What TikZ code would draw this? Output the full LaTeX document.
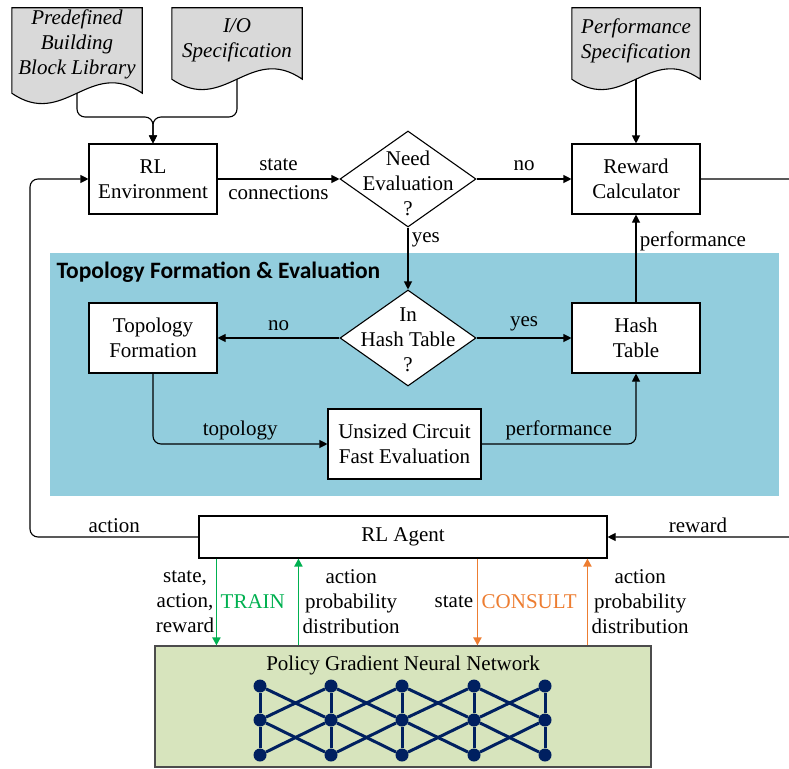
\documentclass[tikz,border=0pt]{standalone}
\usepackage{fontspec}
\setmainfont{Liberation Serif}
\newfontfamily\headfont{Carlito}
\usetikzlibrary{positioning,shapes.geometric,arrows.meta,calc,backgrounds}

\definecolor{panelblue}{RGB}{146,205,221}
\definecolor{docgray}{RGB}{217,217,217}
\definecolor{nnolive}{RGB}{215,228,189}
\definecolor{netnavy}{RGB}{0,32,96}
\definecolor{traingreen}{RGB}{0,176,80}
\definecolor{consultorange}{RGB}{237,125,49}

\newcommand{\mainsize}{\fontsize{21}{25}\selectfont}

% paper sheet with a wavy lower edge behind a doc node; #2 = extra drop of the wave
\newcommand{\docoutline}[2]{%
  \filldraw[docline] (#1.north west) -- (#1.north east) -- ([yshift=-#2pt]#1.south east)
    .. controls ($([yshift=-#2pt]#1.south east)!0.4!([yshift=-#2pt]#1.south west)+(0,-36)$)
    and ($([yshift=-#2pt]#1.south east)!0.6!([yshift=-#2pt]#1.south west)+(0,36)$)
    .. ([yshift=-#2pt]#1.south west) -- cycle;
  \coordinate (#1-tail) at ([yshift=-#2pt]#1.south);}

\begin{document}
\begin{tikzpicture}[x=1pt, y=-1pt, every node/.style={align=center, font=\mainsize}]

\tikzstyle{block} = [rectangle, draw, fill=white, line width=1.1pt, minimum width=128pt, minimum height=70pt, inner sep=0]
\tikzstyle{decision} = [diamond, draw, fill=white, line width=1.1pt, minimum width=136pt, minimum height=96pt, inner sep=0]
\tikzstyle{doc} = [rectangle, minimum width=130pt, inner sep=0, font=\mainsize\itshape]
\tikzstyle{docline} = [fill=docgray, draw, line width=1.1pt]
\tikzstyle{arrow} = [draw, line width=1.1pt, -{Triangle[length=8pt,width=8pt]}]
\tikzstyle{wire} = [draw, line width=1.1pt, rounded corners=8pt]
\tikzstyle{trainarrow} = [draw=traingreen, line width=1.9pt, -{Triangle[length=8pt,width=8pt]}]
\tikzstyle{consultarrow} = [draw=consultorange, line width=1.9pt, -{Triangle[length=8pt,width=8pt]}]
\tikzstyle{neuron} = [circle, fill=netnavy, inner sep=0, minimum size=13pt]
\tikzstyle{synapse} = [draw=netnavy, line width=3pt]

\useasboundingbox (0,0) rectangle (789,768);

% evaluation panel
\node [rectangle, fill=panelblue, minimum width=729pt, minimum height=243pt, inner sep=0] (panel) at (414.5,374.5) {};
\node [anchor=west, font=\headfont\bfseries\fontsize{23.5}{27}\selectfont] (paneltitle) at (53,272) {Topology Formation \& Evaluation};

% inputs
\node [doc, minimum height=72pt] (lib) at (77,44) {Predefined\\Building\\Block Library};
\node [doc, minimum height=64pt] (io) at (237,40) {I/O\\Specification};
\node [doc, minimum width=128pt, minimum height=66pt] (perf) at (636,41) {Performance\\Specification};
\begin{scope}[on background layer]
\docoutline{lib}{13}
\docoutline{io}{7}
\docoutline{perf}{5}
\end{scope}

% top row
\node [block] (env) at (153,179) {RL\\Environment};
\node [decision, label={[yshift=-4pt]center:Need\\Evaluation\\?}] (need) at (408,179) {};
\node [block] (rc) at (636,179) {Reward\\Calculator};

% inside the panel
\node [decision, label={[yshift=-2pt]center:In\\Hash Table\\?}] (intable) at (408,338) {};
\node [block] (tf) at (153,338) {Topology\\Formation};
\node [block] (ht) at (636,338) {Hash\\Table};
\node [block, minimum width=153pt] (ucfe) at (404.5,444) {Unsized Circuit\\Fast Evaluation};

% agent and network
\node [block, minimum width=408pt, minimum height=42pt] (agent) at (403,537) {RL Agent};
\node [rectangle, draw=black!70, fill=nnolive, line width=1.1pt, minimum width=496pt, minimum height=121pt, inner sep=0,
       label={[anchor=north, yshift=-7pt]north:Policy Gradient Neural Network}] (nn) at (403,706.5) {};

\coordinate (merge) at (153,117);
\coordinate (loopL) at (30,0);
\coordinate (loopR) at (800,0);

\draw [wire, arrow] (lib-tail) |- (merge) -- (env.north);
\draw [wire, arrow] (io-tail) |- (merge) -- (env.north);
\draw [arrow] (perf-tail) -- (rc.north);

\draw [arrow] (env.east) -- node[above=4pt]{state} node[below=3pt]{connections} (need.west);
\draw [arrow] (need.east) -- node[above=4pt]{no} (rc.west);
\draw [arrow] (need.south) -- node[pos=0.2, right]{yes} (intable.north);
\draw [arrow] (ht.north) -- node[pos=0.7, right]{performance} (rc.south);

\draw [arrow] (intable.west) -- node[above=3pt]{no} (tf.east);
\draw [arrow] (intable.east) -- node[above=3pt]{yes} (ht.west);
\draw [arrow, rounded corners=8pt] (tf.south) |- node[pos=0.75, above]{topology} (ucfe.west);
\draw [arrow, rounded corners=8pt] (ucfe.east) -| node[pos=0.25, above]{performance} (ht.south);

\draw [arrow, rounded corners=8pt] (agent.west) -- node[above]{action} (agent.west -| loopL) -- (loopL |- env.west) -- (env.west);
\draw [arrow, rounded corners=8pt] (rc.east) -- (rc.east -| loopR) -- (loopR |- agent.east) -- node[pos=0.53, above]{reward} (agent.east);

% train / consult links
\coordinate (trainDn) at ([xshift=18pt]agent.south west);
\coordinate (trainUp) at ([xshift=100pt]agent.south west);
\coordinate (consultDn) at ([xshift=279pt]agent.south west);
\coordinate (consultUp) at ([xshift=389pt]agent.south west);

\draw [trainarrow] (trainDn) -- node[left, xshift=2pt]{state,\\action,\\reward} node[right, text=traingreen]{TRAIN} (trainDn |- nn.north);
\draw [trainarrow] (trainUp |- nn.north) -- node[right]{action\\probability\\distribution} (trainUp);
\draw [consultarrow] (consultDn) -- node[left]{state} node[right, text=consultorange]{CONSULT} (consultDn |- nn.north);
\draw [consultarrow] (consultUp |- nn.north) -- node[right]{action\\probability\\distribution} (consultUp);

% network drawing
\foreach \x [count=\col] in {260,331,402,474,545}
  \foreach \y [count=\row] in {686,720,755}
    \node [neuron] (n\col\row) at (\x,\y) {};
\foreach \col in {1,...,5}
  \draw [synapse] (n\col1) -- (n\col2) -- (n\col3);
\foreach \col [evaluate=\col as \nxt using int(\col+1)] in {1,...,4} {
  \draw [synapse] (n\col1) -- (n\nxt2);
  \draw [synapse] (n\col2) -- (n\nxt1);
  \draw [synapse] (n\col2) -- (n\nxt3);
  \draw [synapse] (n\col3) -- (n\nxt2);
}
\end{tikzpicture}
\end{document}
